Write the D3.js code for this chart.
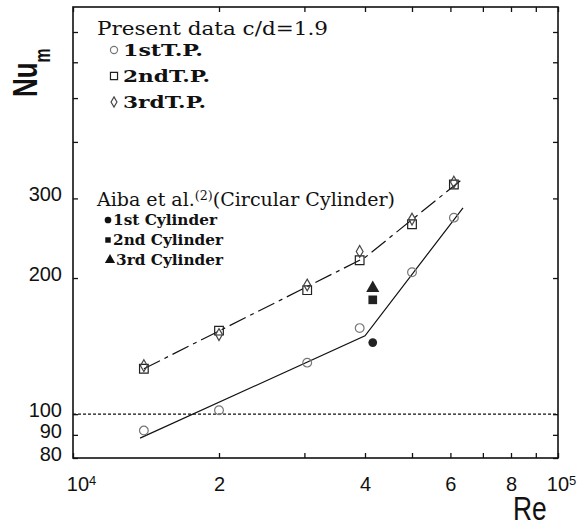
<!DOCTYPE html>
<html>
<head>
<meta charset="utf-8">
<script src="https://cdn.jsdelivr.net/npm/d3@7"></script>
<style>
body { margin: 0; background: #fff; }
svg { display: block; }
.axis path { display: none; }
.axis line { stroke: #111; stroke-width: 1.3; }
.axis text { font-family: "Liberation Sans", Arial, sans-serif; font-size: 20px; fill: #111; }
.serif { font-family: "DejaVu Serif", "Liberation Serif", serif; fill: #111; }
</style>
</head>
<body>
<div id="chart"></div>
<script>
const width = 583;
const height = 526;
const margin = { top: 7, right: 25, bottom: 68, left: 73 };

// present data, c/d = 1.9
const reTP = [1.4e4, 2.0e4, 3.04e4, 3.9e4, 5.0e4, 6.1e4];
const nu1stTP = [92, 102, 130, 155, 206, 272];
const nu2ndTP = [126, 153, 188, 219, 263, 322];
const nu3rdTP = [128, 150, 193, 229, 270, 326];

// Aiba et al. (circular cylinder)
const reAiba = [4.15e4, 4.15e4, 4.15e4];
const nuAiba = [144, 179, 190];

// fitted lines
const reSolid = [1.375e4, 4.0e4, 6.37e4];
const nuSolid = [88.5, 149, 286];
const reDash = [1.4e4, 4.0e4, 6.37e4];
const nuDash = [126, 222, 332];

const reference = 100;

const xTicks = [1e4, 2e4, 3e4, 4e4, 5e4, 6e4, 7e4, 8e4, 9e4, 1e5];
const xLabels = { 20000: "2", 40000: "4", 60000: "6", 80000: "8" };
const yTicks = [80, 90, 100, 200, 300, 400, 500, 600, 700];
const yLabels = [80, 90, 100, 200, 300];

const presentLabels = ["1stT.P.", "2ndT.P.", "3rdT.P."];
const aibaLabels = ["1st Cylinder", "2nd Cylinder", "3rd Cylinder"];

const x = d3.scaleLog().domain([1e4, 1e5]).range([margin.left, width - margin.right]);
const y = d3.scaleLog().domain([80, 795]).range([height - margin.bottom, margin.top]);

const svg = d3.select("#chart")
  .append("svg")
  .attr("width", width)
  .attr("height", height);

// axes, ticks pointing inward
svg.append("g")
  .attr("class", "axis")
  .attr("transform", `translate(0,${y.range()[0]})`)
  .call(d3.axisBottom(x).tickValues(xTicks).tickSize(-5).tickPadding(19)
    .tickFormat(d => xLabels[Math.round(d)] || ""))
  .selectAll(".tick")
  .filter(d => d === 1e4 || d === 1e5)
  .select("text")
  .each(function(d) {
    const t = d3.select(this).attr("dx", d === 1e4 ? 8 : 3);
    t.append("tspan").text("10");
    t.append("tspan").attr("dy", "-0.45em").style("font-size", "13px").text(d === 1e4 ? "4" : "5");
  });

svg.append("g")
  .attr("class", "axis")
  .attr("transform", `translate(0,${y.range()[1]})`)
  .call(d3.axisTop(x).tickValues(xTicks).tickSize(-5).tickFormat(""));

svg.append("g")
  .attr("class", "axis")
  .attr("transform", `translate(${x.range()[0]},0)`)
  .call(d3.axisLeft(y).tickValues(yTicks).tickSize(-5).tickPadding(11)
    .tickFormat(d => yLabels.includes(d) ? d : ""))
  .selectAll("text")
  .attr("dy", "0.12em");

svg.append("g")
  .attr("class", "axis")
  .attr("transform", `translate(${x.range()[1]},0)`)
  .call(d3.axisRight(y).tickValues(yTicks).tickSize(-5).tickFormat(""));

svg.append("rect")
  .attr("x", x.range()[0])
  .attr("y", y.range()[1])
  .attr("width", x.range()[1] - x.range()[0])
  .attr("height", y.range()[0] - y.range()[1])
  .attr("fill", "none")
  .attr("stroke", "#111")
  .attr("stroke-width", 1.6);

// reference line Nu = 100
svg.append("line")
  .attr("x1", x.range()[0])
  .attr("x2", x.range()[1])
  .attr("y1", y(reference))
  .attr("y2", y(reference))
  .attr("stroke", "#111")
  .attr("stroke-width", 1.3)
  .attr("stroke-dasharray", "3,2");

const line = d3.line().x(d => x(d[0])).y(d => y(d[1]));

svg.append("path")
  .datum(d3.zip(reSolid, nuSolid))
  .attr("d", line)
  .attr("fill", "none")
  .attr("stroke", "#111")
  .attr("stroke-width", 1.2);

svg.append("path")
  .datum(d3.zip(reDash, nuDash))
  .attr("d", line)
  .attr("fill", "none")
  .attr("stroke", "#111")
  .attr("stroke-width", 1.2)
  .attr("stroke-dasharray", "18,5,4,5");

// markers
const symCircle = d3.symbol().type(d3.symbolCircle).size(60);
const symSquare = d3.symbol().type(d3.symbolSquare).size(75);
const symDiamond = d3.symbol().type(d3.symbolDiamond).size(40);
const symTriangle = d3.symbol().type(d3.symbolTriangle).size(75);

function points(re, nu, sym, fill, stroke) {
  svg.append("g")
    .selectAll("path")
    .data(d3.zip(re, nu))
    .enter()
    .append("path")
    .attr("transform", d => `translate(${x(d[0])},${y(d[1])})`)
    .attr("d", sym)
    .attr("fill", fill)
    .attr("stroke", stroke)
    .attr("stroke-width", 1.2);
}

points(reTP, nu1stTP, symCircle, "none", "#777");
points(reTP, nu2ndTP, symSquare, "none", "#222");
points(reTP, nu3rdTP, symDiamond, "none", "#444");

const aibaSyms = [symCircle, symSquare, symTriangle];
svg.append("g")
  .selectAll("path")
  .data(d3.zip(reAiba, nuAiba))
  .enter()
  .append("path")
  .attr("transform", d => `translate(${x(d[0])},${y(d[1])})`)
  .attr("d", (d, i) => aibaSyms[i]())
  .attr("fill", "#222");

// legend: present data
svg.append("text")
  .attr("class", "serif")
  .attr("x", 97)
  .attr("y", 35)
  .style("font-size", "18px")
  .attr("textLength", 231)
  .attr("lengthAdjust", "spacingAndGlyphs")
  .text("Present data c/d=1.9");

const presentSyms = [
  d3.symbol().type(d3.symbolCircle).size(40),
  d3.symbol().type(d3.symbolSquare).size(50),
  d3.symbol().type(d3.symbolDiamond).size(30)
];
const presentStroke = ["#777", "#222", "#444"];
const presentWidth = [80, 87, 83];
presentLabels.forEach((label, i) => {
  const ly = 56 + i * 26;
  svg.append("path")
    .attr("transform", `translate(114,${ly - 6})`)
    .attr("d", presentSyms[i]())
    .attr("fill", "none")
    .attr("stroke", presentStroke[i])
    .attr("stroke-width", 1.2);
  svg.append("text")
    .attr("class", "serif")
    .attr("x", 123)
    .attr("y", ly)
    .style("font-size", "16px")
    .style("font-weight", "bold")
    .attr("textLength", presentWidth[i])
    .attr("lengthAdjust", "spacingAndGlyphs")
    .text(label);
});

// legend: Aiba et al.
const aiba = svg.append("text")
  .attr("class", "serif")
  .attr("x", 97)
  .attr("y", 206)
  .style("font-size", "18px");
aiba.append("tspan").text("Aiba et al.");
aiba.append("tspan").attr("dy", -6).style("font-size", "12px").text("(2)");
aiba.append("tspan").attr("dy", 6).text("(Circular Cylinder)");
aiba.attr("textLength", 298).attr("lengthAdjust", "spacingAndGlyphs");

const aibaLegendSyms = [
  d3.symbol().type(d3.symbolCircle).size(35),
  d3.symbol().type(d3.symbolSquare).size(30),
  d3.symbol().type(d3.symbolTriangle).size(45)
];
aibaLabels.forEach((label, i) => {
  const ly = 225 + i * 20;
  svg.append("path")
    .attr("transform", `translate(${i === 2 ? 110 : 108},${ly - 5})`)
    .attr("d", aibaLegendSyms[i]())
    .attr("fill", "#111");
  svg.append("text")
    .attr("class", "serif")
    .attr("x", i === 2 ? 116 : 113)
    .attr("y", ly)
    .style("font-size", "14px")
    .style("font-weight", "bold")
    .attr("textLength", i === 0 ? 104 : i === 1 ? 110 : 107)
    .attr("lengthAdjust", "spacingAndGlyphs")
    .text(label);
});

// axis titles
const nu = svg.append("text")
  .attr("transform", "translate(37,97) rotate(-90) scale(0.72,1)")
  .style("font-family", "'Liberation Sans', Arial, sans-serif")
  .style("font-weight", "bold")
  .style("font-size", "36px")
  .attr("fill", "#111");
nu.append("tspan").text("Nu");
nu.append("tspan").attr("dy", 13).style("font-size", "22px").text("m");

svg.append("text")
  .attr("transform", "translate(513,520) scale(0.8,1)")
  .style("font-family", "'Liberation Sans', Arial, sans-serif")
  .style("font-size", "33px")
  .attr("fill", "#111")
  .text("Re");
</script>
</body>
</html>
